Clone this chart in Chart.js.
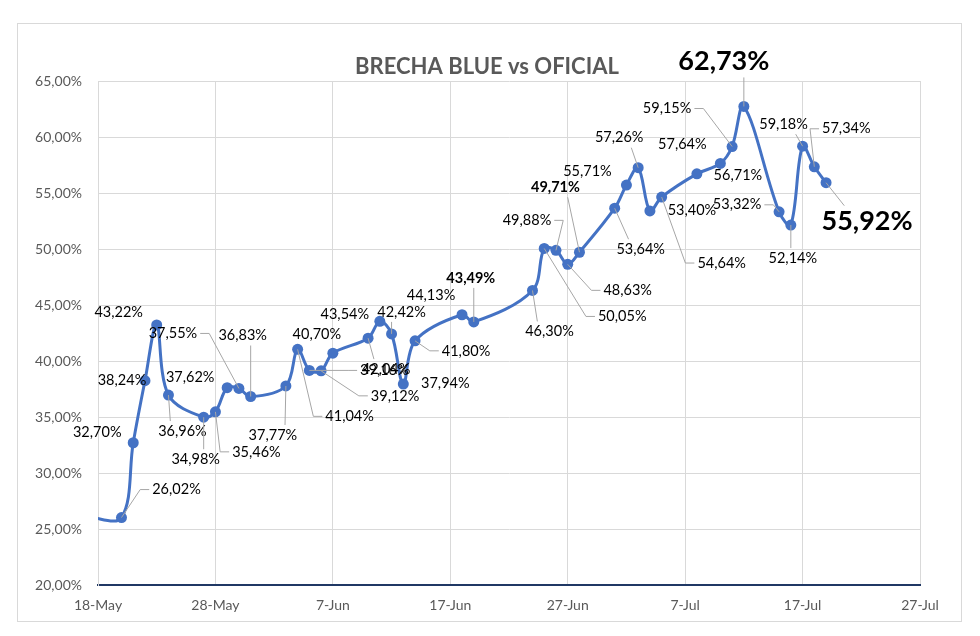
<!DOCTYPE html>
<html>
<head>
<meta charset="utf-8">
<script src="https://cdn.jsdelivr.net/npm/chart.js@4.4.1/dist/chart.umd.min.js"></script>
<style>
  body { margin: 0; background: #fff; }
  #wrap { position: relative; width: 980px; height: 636px; }
  #frame { position: absolute; left: 17px; top: 23px; width: 943px; height: 597px; border: 1px solid #d9d9d9; }
  #wrap canvas { position: absolute; left: 0; top: 0; }
</style>
</head>
<body>
<div id="wrap">
  <div id="frame"></div>
  <canvas id="chart" width="980" height="636"></canvas>
</div>
<script>
// fechas de cotizacion y brecha (%)
const dates = [
  "2024-05-17", "2024-05-20", "2024-05-21", "2024-05-22", "2024-05-23", "2024-05-24",
  "2024-05-27", "2024-05-28", "2024-05-29", "2024-05-30", "2024-05-31",
  "2024-06-03", "2024-06-04", "2024-06-05", "2024-06-06", "2024-06-07",
  "2024-06-10", "2024-06-11", "2024-06-12", "2024-06-13", "2024-06-14",
  "2024-06-18", "2024-06-19", "2024-06-24", "2024-06-25", "2024-06-26", "2024-06-27", "2024-06-28",
  "2024-07-01", "2024-07-02", "2024-07-03", "2024-07-04", "2024-07-05",
  "2024-07-08", "2024-07-10", "2024-07-11", "2024-07-12",
  "2024-07-15", "2024-07-16", "2024-07-17", "2024-07-18", "2024-07-19"
];
const brecha = [
  26.10, 26.02, 32.70, 38.24, 43.22, 36.96,
  34.98, 35.46, 37.62, 37.55, 36.83,
  37.77, 41.04, 39.16, 39.12, 40.70,
  42.04, 43.54, 42.42, 37.94, 41.80,
  44.13, 43.49, 46.30, 50.05, 49.88, 48.63, 49.71,
  53.64, 55.71, 57.26, 53.40, 54.64,
  56.71, 57.64, 59.15, 62.73,
  53.32, 52.14, 59.18, 57.34, 55.92
];
const xTickLabels = ["18-May", "28-May", "7-Jun", "17-Jun", "27-Jun", "7-Jul", "17-Jul", "27-Jul"];
const startDate = "2024-05-18";

// posicion de cada etiqueta respecto a su punto: [dx, dy, linea guia]
const labelLayout = [
  null, [55, -28, 1], [-36, -10, 0], [-23, 0, 0], [-38, -13, 0], [14, 36, 1],
  [-8, 42, 1], [41, 40, 1], [-37, -10, 0], [-66, -55, 1], [-8, -61, 1],
  [-13, 49, 1], [52, 67, 1], [75, 0, 1], [74, 25, 1], [-16, -19, 0],
  [18, 31, 1], [-35, -7, 0], [10, -22, 1], [42, -1, 0], [51, 10, 1],
  [-31, -19, 0], [-3, -44, 1], [17, 41, 1], [78, 68, 1], [-29, -30, 1], [60, 26, 1], [-24, -65, 1],
  [26, 41, 1], [-39, -14, 0], [-19, -30, 1], [42, -1, 0], [60, 66, 1],
  [41, 1, 0], [-38, -19, 0], [-65, -38, 1], [-20, -45, 1],
  [-42, -7, 1], [2, 33, 1], [-19, -22, 1], [32, -38, 1], [41, 39, 1]
];
const boldLabels = [22, 27];
const bigLabels = [36, 41];

const DAY = 86400000;
const dayIndex = d => (Date.parse(d) - Date.parse(startDate)) / DAY;
const fmt = v => v.toFixed(2).replace(".", ",") + "%";

const points = dates.map((d, i) => ({ x: dayIndex(d), y: brecha[i] }));

const labelPlugin = {
    id: "pointLabels",
    afterDatasetsDraw(chart) {
        const ctx = chart.ctx;
        const meta = chart.getDatasetMeta(0);
        ctx.save();
        meta.data.forEach((pt, i) => {
            const lay = labelLayout[i];
            if (!lay) return;
            const [dx, dy, leader] = lay;
            const big = bigLabels.includes(i);
            let font = "14.5px Lato";
            if (boldLabels.includes(i)) font = "bold 14.5px Lato";
            if (big) font = "bold 27px Lato";
            ctx.font = font;
            const text = fmt(brecha[i]);
            const w = ctx.measureText(text).width;
            const h = big ? 26 : 14;
            const cx = pt.x + dx, cy = pt.y + dy;

            if (leader) {
                ctx.strokeStyle = "#a6a6a6";
                ctx.lineWidth = 1;
                ctx.beginPath();
                ctx.moveTo(pt.x, pt.y);
                if (Math.abs(dx) < w / 2 + 4) {
                    const tx = cx + Math.min(Math.max(pt.x - cx, -w / 4), w / 4);
                    const ty = dy > 0 ? cy - h / 2 - 3 : cy + h / 2 + 3;
                    ctx.lineTo(tx, ty);
                } else {
                    const side = dx > 0 ? cx - w / 2 - 3 : cx + w / 2 + 3;
                    const elbow = dx > 0 ? side - 9 : side + 9;
                    ctx.lineTo(elbow, cy);
                    ctx.lineTo(side, cy);
                }
                ctx.stroke();
            }

            ctx.fillStyle = "#000";
            ctx.textAlign = "center";
            ctx.textBaseline = "middle";
            ctx.fillText(text, cx, cy);
        });
        ctx.restore();
    }
};

new Chart(document.getElementById("chart"), {
    type: "line",
    data: {
        datasets: [{
            label: "Brecha",
            data: points,
            borderColor: "#4472c4",
            backgroundColor: "#4472c4",
            borderWidth: 3,
            pointRadius: points.map((p, i) => labelLayout[i] ? 5.5 : 0),
            pointBorderWidth: 0,
            tension: 0.35,
            clip: 0
        }]
    },
    options: {
        responsive: false,
        animation: false,
        layout: { padding: { left: 0, right: 6, top: 0, bottom: 0 } },
        plugins: {
            legend: { display: false },
            tooltip: { enabled: false },
            title: {
                display: true,
                text: "BRECHA BLUE vs OFICIAL",
                color: "#595959",
                font: { family: "Lato", size: 22, weight: "bold", lineHeight: 1.2 },
                padding: { top: 54, bottom: 0.6 }
            }
        },
        scales: {
            x: {
                type: "linear",
                min: 0,
                max: 70,
                afterFit: s => { s.height = 51; },
                ticks: {
                    stepSize: 10,
                    padding: 12,
                    color: "#595959",
                    font: { family: "Lato", size: 14 },
                    callback: v => xTickLabels[Math.round(v / 10)]
                },
                grid: { color: "#d9d9d9", drawTicks: false },
                border: { color: "#203864", width: 2 }
            },
            y: {
                min: 20,
                max: 65,
                afterFit: s => { s.width = 98; },
                ticks: {
                    stepSize: 5,
                    padding: 16,
                    color: "#595959",
                    font: { family: "Lato", size: 14 },
                    callback: v => fmt(v)
                },
                grid: { color: "#d9d9d9", drawTicks: false },
                border: { color: "#d9d9d9" }
            },
            // margen derecho vacio, para que el titulo quede centrado como en el original
            yRight: {
                position: "right",
                min: 20,
                max: 65,
                afterFit: s => { s.width = 54; },
                ticks: { display: false },
                grid: { display: false },
                border: { display: false }
            }
        }
    },
    plugins: [labelPlugin]
});
</script>
</body>
</html>
